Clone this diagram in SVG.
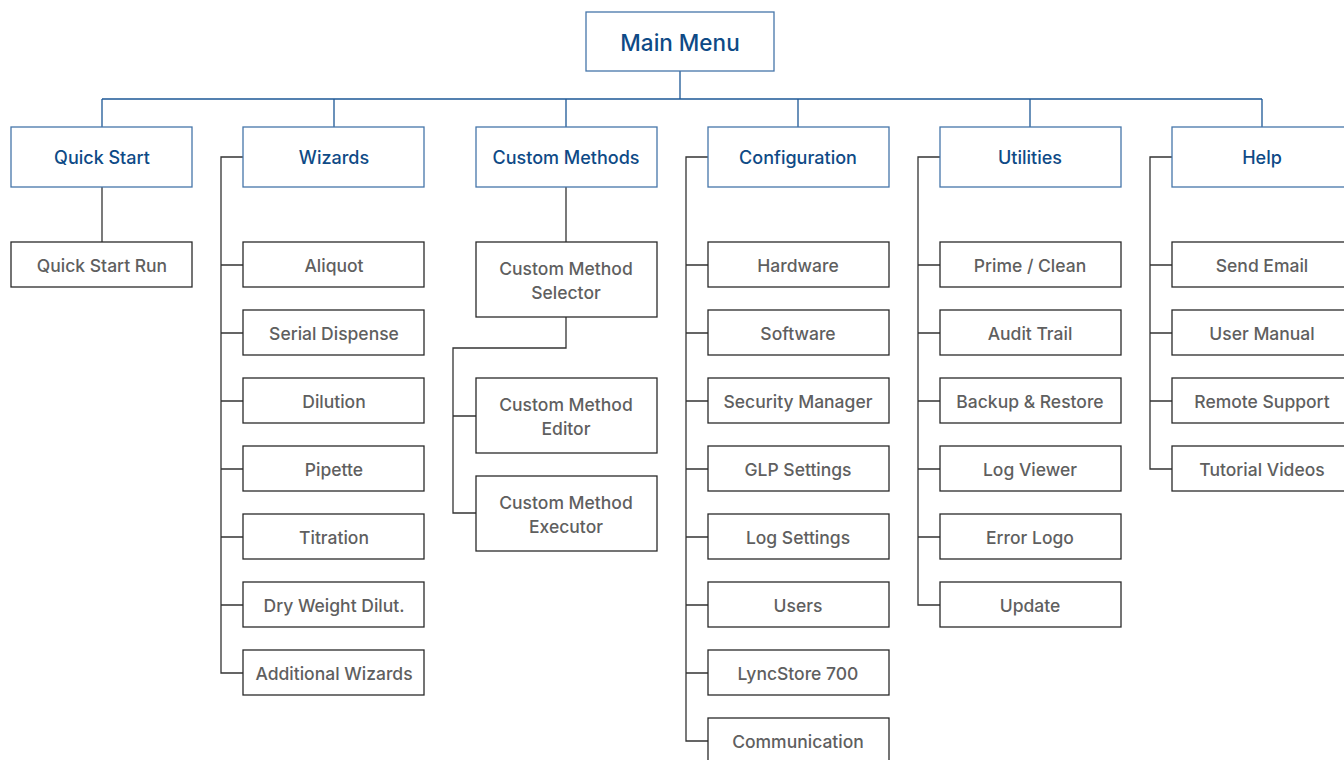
<svg xmlns="http://www.w3.org/2000/svg" width="1344" height="760" viewBox="0 0 1344 760">
<style>
.hb{fill:#fff;stroke:#4676aa;stroke-width:1.3}
.cb{fill:#fff;stroke:#2a2a2a;stroke-width:1.3}
.ht{font-family:Inter,"Liberation Sans",Arial,sans-serif;font-weight:500;font-size:18px;fill:#0e4a86;text-anchor:middle;dominant-baseline:central}
.mt{font-family:Inter,"Liberation Sans",Arial,sans-serif;font-weight:500;font-size:22.5px;fill:#0e4a86;text-anchor:middle;dominant-baseline:central}
.ct{font-family:Inter,"Liberation Sans",Arial,sans-serif;font-weight:500;font-size:17.5px;fill:#5f5f5f;text-anchor:middle;dominant-baseline:central}
.bl{fill:none;stroke:#1d5896;stroke-width:1.3}
.dl{fill:none;stroke:#333;stroke-width:1.3}
</style>
<g id="connectors">
<path class="bl" d="M680 71V99M102 99H1262M102 99V127M334 99V127M566 99V127M798 99V127M1030 99V127M1262 99V127"/>
<path class="dl" d="M102 187V242"/>
<path class="dl" d="M243 157H221V673H243M221 265H243M221 333H243M221 401H243M221 469H243M221 537H243M221 605H243"/>
<path class="dl" d="M566 187V242M566 317V348H453V513H476M453 416H476"/>
<path class="dl" d="M708 157H686V741H708M686 265H708M686 333H708M686 401H708M686 469H708M686 537H708M686 605H708M686 673H708"/>
<path class="dl" d="M940 157H918V605H940M918 265H940M918 333H940M918 401H940M918 469H940M918 537H940"/>
<path class="dl" d="M1172 157H1150V469H1172M1150 265H1172M1150 333H1172M1150 401H1172"/>
</g>
<g id="main-menu"><rect class="hb" x="586" y="12" width="188" height="59"/><text class="mt" x="680" y="42">Main Menu</text></g>
<g id="quick-start"><rect class="hb" x="11" y="127" width="181" height="60"/><text class="ht" x="102" y="157">Quick Start</text></g>
<g id="wizards"><rect class="hb" x="243" y="127" width="181" height="60"/><text class="ht" x="334" y="157">Wizards</text></g>
<g id="custom-methods"><rect class="hb" x="476" y="127" width="181" height="60"/><text class="ht" x="566" y="157">Custom Methods</text></g>
<g id="configuration"><rect class="hb" x="708" y="127" width="181" height="60"/><text class="ht" x="798" y="157">Configuration</text></g>
<g id="utilities"><rect class="hb" x="940" y="127" width="181" height="60"/><text class="ht" x="1030" y="157">Utilities</text></g>
<g id="help"><rect class="hb" x="1172" y="127" width="181" height="60"/><text class="ht" x="1262" y="157">Help</text></g>

<g id="quick-start-run"><rect class="cb" x="11" y="242" width="181" height="45"/><text class="ct" x="102" y="265">Quick Start Run</text></g>

<g id="aliquot"><rect class="cb" x="243" y="242" width="181" height="45"/><text class="ct" x="334" y="265">Aliquot</text></g>
<g id="serial-dispense"><rect class="cb" x="243" y="310" width="181" height="45"/><text class="ct" x="334" y="333">Serial Dispense</text></g>
<g id="dilution"><rect class="cb" x="243" y="378" width="181" height="45"/><text class="ct" x="334" y="401">Dilution</text></g>
<g id="pipette"><rect class="cb" x="243" y="446" width="181" height="45"/><text class="ct" x="334" y="469">Pipette</text></g>
<g id="titration"><rect class="cb" x="243" y="514" width="181" height="45"/><text class="ct" x="334" y="537">Titration</text></g>
<g id="dry-weight"><rect class="cb" x="243" y="582" width="181" height="45"/><text class="ct" x="334" y="605">Dry Weight Dilut.</text></g>
<g id="additional-wizards"><rect class="cb" x="243" y="650" width="181" height="45"/><text class="ct" x="334" y="673">Additional Wizards</text></g>

<g id="cm-selector"><rect class="cb" x="476" y="242" width="181" height="75"/><text class="ct" x="566" y="268">Custom Method</text><text class="ct" x="566" y="292">Selector</text></g>
<g id="cm-editor"><rect class="cb" x="476" y="378" width="181" height="75"/><text class="ct" x="566" y="404">Custom Method</text><text class="ct" x="566" y="428">Editor</text></g>
<g id="cm-executor"><rect class="cb" x="476" y="476" width="181" height="75"/><text class="ct" x="566" y="502">Custom Method</text><text class="ct" x="566" y="526">Executor</text></g>

<g id="hardware"><rect class="cb" x="708" y="242" width="181" height="45"/><text class="ct" x="798" y="265">Hardware</text></g>
<g id="software"><rect class="cb" x="708" y="310" width="181" height="45"/><text class="ct" x="798" y="333">Software</text></g>
<g id="security-manager"><rect class="cb" x="708" y="378" width="181" height="45"/><text class="ct" x="798" y="401">Security Manager</text></g>
<g id="glp-settings"><rect class="cb" x="708" y="446" width="181" height="45"/><text class="ct" x="798" y="469">GLP Settings</text></g>
<g id="log-settings"><rect class="cb" x="708" y="514" width="181" height="45"/><text class="ct" x="798" y="537">Log Settings</text></g>
<g id="users"><rect class="cb" x="708" y="582" width="181" height="45"/><text class="ct" x="798" y="605">Users</text></g>
<g id="lyncstore"><rect class="cb" x="708" y="650" width="181" height="45"/><text class="ct" x="798" y="673">LyncStore 700</text></g>
<g id="communication"><rect class="cb" x="708" y="718" width="181" height="45"/><text class="ct" x="798" y="741">Communication</text></g>

<g id="prime-clean"><rect class="cb" x="940" y="242" width="181" height="45"/><text class="ct" x="1030" y="265">Prime / Clean</text></g>
<g id="audit-trail"><rect class="cb" x="940" y="310" width="181" height="45"/><text class="ct" x="1030" y="333">Audit Trail</text></g>
<g id="backup-restore"><rect class="cb" x="940" y="378" width="181" height="45"/><text class="ct" x="1030" y="401">Backup &amp; Restore</text></g>
<g id="log-viewer"><rect class="cb" x="940" y="446" width="181" height="45"/><text class="ct" x="1030" y="469">Log Viewer</text></g>
<g id="error-logo"><rect class="cb" x="940" y="514" width="181" height="45"/><text class="ct" x="1030" y="537">Error Logo</text></g>
<g id="update"><rect class="cb" x="940" y="582" width="181" height="45"/><text class="ct" x="1030" y="605">Update</text></g>

<g id="send-email"><rect class="cb" x="1172" y="242" width="181" height="45"/><text class="ct" x="1262" y="265">Send Email</text></g>
<g id="user-manual"><rect class="cb" x="1172" y="310" width="181" height="45"/><text class="ct" x="1262" y="333">User Manual</text></g>
<g id="remote-support"><rect class="cb" x="1172" y="378" width="181" height="45"/><text class="ct" x="1262" y="401">Remote Support</text></g>
<g id="tutorial-videos"><rect class="cb" x="1172" y="446" width="181" height="45"/><text class="ct" x="1262" y="469">Tutorial Videos</text></g>
</svg>
